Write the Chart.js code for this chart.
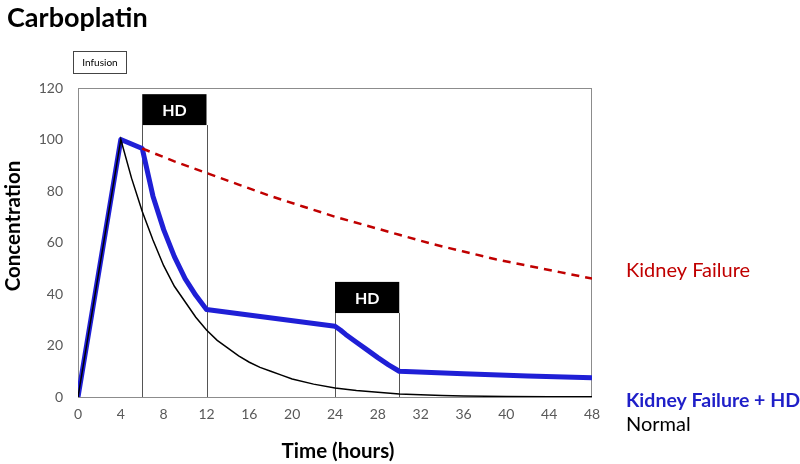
<!DOCTYPE html>
<html>
<head>
<meta charset="utf-8">
<script src="https://cdn.jsdelivr.net/npm/chart.js@4/dist/chart.umd.min.js"></script>
<style>
  html, body { margin: 0; padding: 0; background: #fff; }
  #wrap { position: relative; width: 800px; height: 464px; }
</style>
</head>
<body>
<div id="wrap"><canvas id="chart" width="800" height="464"></canvas></div>
<script>
// values
var normalTime = [0, 4, 5, 6, 7, 8, 9, 10, 11, 12, 13, 14, 15, 16, 17, 18, 19, 20, 22, 24, 26, 28, 30, 32, 34, 36, 40, 44, 48]
var normalConc = [0, 100, 85, 72, 61, 51, 43, 37, 31, 26, 22, 19, 16, 13.5, 11.5, 10, 8.5, 7, 5, 3.5, 2.5, 1.8, 1.2, 0.9, 0.6, 0.4, 0.2, 0.1, 0.05]

var kfTime = [6, 9, 12, 15, 18, 21, 24, 27, 30, 33, 36, 39, 42, 45, 48]
var kfConc = [96.5, 91.5, 87, 82.5, 78, 74, 70, 66.5, 63, 59.5, 56.5, 53.5, 51, 48.5, 46]

var hdTime = [0, 4, 6, 7, 8, 9, 10, 11, 12, 24, 24.5, 25, 26, 27, 28, 29, 30, 36, 42, 48]
var hdConc = [0, 100, 96.5, 78, 65, 54.5, 46, 39.5, 34, 27.5, 26, 24.3, 21.3, 18.3, 15.3, 12.5, 10, 9, 8.2, 7.5]

// dialysis sessions [start, end] in hours, box top / bottom on the y scale
var hdStart = [6, 24]
var hdEnd = [12, 30]
var hdBoxTop = [117.6, 44.7]
var hdBoxBottom = [105.6, 32.6]

var xTicks = [0, 4, 8, 12, 16, 20, 24, 28, 32, 36, 40, 44, 48]
var yTicks = [0, 20, 40, 60, 80, 100, 120]

function pts(xs, ys) {
    var out = []
    for (var i = 0; i < xs.length; i++) out.push({x: xs[i], y: ys[i]})
    return out
}

var FONT = 'Lato, "Liberation Sans", sans-serif'

var extras = {
    id: 'extras',
    beforeDatasetsDraw: function (chart) {
        var ctx = chart.ctx
        var xs = chart.scales.x, ys = chart.scales.y
        var a = chart.chartArea
        ctx.save()
        // plot border
        ctx.strokeStyle = '#8c8c8c'
        ctx.lineWidth = 1
        ctx.strokeRect(a.left + 0.5, a.top + 0.5, a.right - a.left - 1, a.bottom - a.top)
        for (var i = 0; i < hdStart.length; i++) {
            var x1 = xs.getPixelForValue(hdStart[i])
            var x2 = xs.getPixelForValue(hdEnd[i])
            var t = ys.getPixelForValue(hdBoxTop[i])
            var b = ys.getPixelForValue(hdBoxBottom[i])
            var base = ys.getPixelForValue(0)
            ctx.strokeStyle = '#555'
            ctx.lineWidth = 1
            ctx.beginPath()
            ctx.moveTo(Math.round(x1) + 0.5, b); ctx.lineTo(Math.round(x1) + 0.5, base)
            ctx.moveTo(Math.round(x2) + 0.5, b); ctx.lineTo(Math.round(x2) + 0.5, base)
            ctx.stroke()
            ctx.fillStyle = '#000'
            ctx.fillRect(x1, t, x2 - x1, b - t)
            ctx.fillStyle = '#fff'
            ctx.font = 'bold 16px ' + FONT
            ctx.textAlign = 'center'
            ctx.textBaseline = 'middle'
            ctx.fillText('HD', (x1 + x2) / 2, (t + b) / 2 + 1)
        }
        ctx.restore()
    },
    afterDraw: function (chart) {
        var ctx = chart.ctx
        ctx.save()
        ctx.textBaseline = 'middle'
        ctx.textAlign = 'left'
        ctx.fillStyle = '#000'
        ctx.font = 'bold 27px ' + FONT
        ctx.fillText('Carboplatin', 7, 18)

        // infusion box
        ctx.strokeStyle = '#444'
        ctx.lineWidth = 1
        ctx.strokeRect(73.5, 51.5, 53, 22)
        ctx.font = '10px ' + FONT
        ctx.textAlign = 'center'
        ctx.fillText('Infusion', 100, 62.5)

        // axis titles
        ctx.font = 'bold 20.5px ' + FONT
        ctx.fillText('Time (hours)', 338, 451)
        ctx.save()
        ctx.translate(13, 226)
        ctx.rotate(-Math.PI / 2)
        ctx.fillText('Concentration', 0, 0)
        ctx.restore()

        // series labels
        ctx.textAlign = 'left'
        ctx.font = '20px ' + FONT
        ctx.fillStyle = '#c00000'
        ctx.fillText('Kidney Failure', 626, 271)
        ctx.font = 'bold 19.5px ' + FONT
        ctx.fillStyle = '#1f1fc8'
        ctx.fillText('Kidney Failure + HD', 626, 401)
        ctx.font = '20px ' + FONT
        ctx.fillStyle = '#000'
        ctx.fillText('Normal', 626, 425)
        ctx.restore()
    }
}

var ctx = document.getElementById('chart').getContext('2d')
var chart = new Chart(ctx, {
    type: 'line',
    data: {
        datasets: [
            {
                label: 'Normal',
                data: pts(normalTime, normalConc),
                borderColor: '#000',
                borderWidth: 1.5,
                pointRadius: 0,
                tension: 0
            },
            {
                label: 'Kidney Failure',
                data: pts(kfTime, kfConc),
                borderColor: '#c00000',
                borderWidth: 2.5,
                borderDash: [8, 6],
                pointRadius: 0,
                tension: 0
            },
            {
                label: 'Kidney Failure + HD',
                data: pts(hdTime, hdConc),
                borderColor: '#1f1fd6',
                borderWidth: 5,
                pointRadius: 0,
                tension: 0,
                borderJoinStyle: 'round'
            }
        ]
    },
    options: {
        responsive: false,
        animation: false,
        layout: { padding: { left: 0, top: 88, right: 208, bottom: 0 } },
        plugins: { legend: { display: false }, tooltip: { enabled: false } },
        scales: {
            x: {
                type: 'linear',
                min: 0, max: 48,
                afterFit: function (s) { s.height = 67 },
                afterBuildTicks: function (s) { s.ticks = xTicks.map(function (v) { return {value: v} }) },
                grid: { display: false, drawTicks: false },
                border: { display: false },
                ticks: { color: '#595959', font: { family: FONT, size: 14 }, padding: 9, maxRotation: 0 }
            },
            y: {
                min: 0, max: 120,
                afterFit: function (s) { s.width = 78 },
                afterBuildTicks: function (s) { s.ticks = yTicks.map(function (v) { return {value: v} }) },
                grid: { display: false, drawTicks: false },
                border: { display: false },
                ticks: { color: '#595959', font: { family: FONT, size: 14 }, padding: 15 }
            }
        }
    },
    plugins: [extras]
})
</script>
</body>
</html>
